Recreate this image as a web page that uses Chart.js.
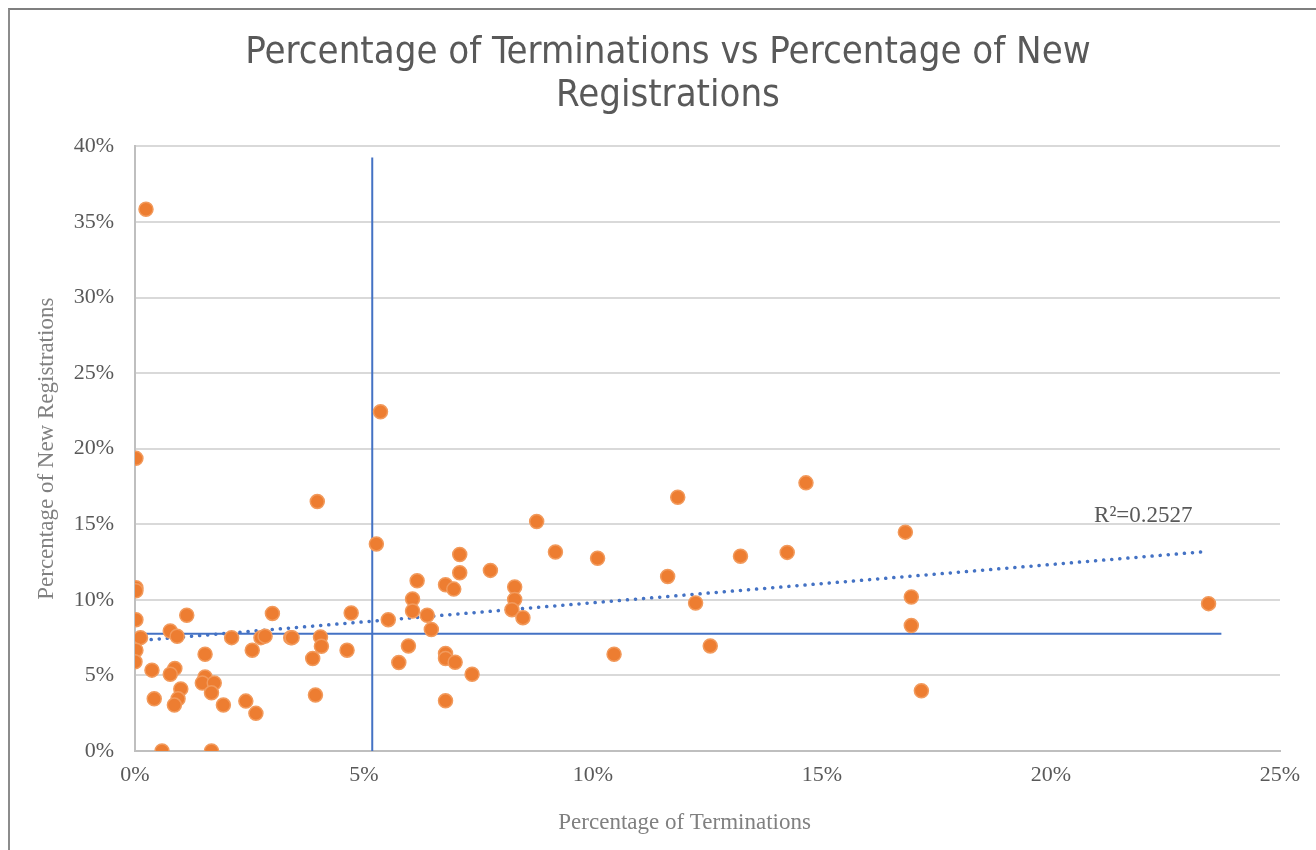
<!DOCTYPE html>
<html>
<head>
<meta charset="utf-8">
<title>Percentage of Terminations vs Percentage of New Registrations</title>
<script src="https://cdn.jsdelivr.net/npm/chart.js@4.4.0/dist/chart.umd.min.js"></script>
<style>
    html, body { margin: 0; padding: 0; background: #fff; overflow: hidden; }
    #wrap { position: relative; width: 1316px; height: 850px; }
    #frame {
        position: absolute; left: 8px; top: 8px; width: 1320px; height: 860px;
        border-top: 2px solid #7f7f7f; border-left: 2px solid #8c8c8c;
        pointer-events: none;
    }
</style>
</head>
<body>
<div id="wrap">
    <canvas id="scatter-chart" width="1316" height="850"></canvas>
    <div id="frame"></div>
</div>
<script>
// Percentage of terminations (x) and new registrations (y), one entry per point
const terminationPct = [
    0.24, 0.02, 0.02, 0.02, 0.02, 0.12, 0.02, 0.0, 0.37, 0.42,
    0.59, 0.77, 0.92, 0.87, 0.77, 1.0, 0.94, 0.86, 1.13, 1.53,
    1.53, 1.47, 1.73, 1.67, 1.67, 1.93, 2.11, 2.42, 2.56, 2.64,
    2.75, 2.84, 3.0, 3.40, 3.43, 3.88, 3.94, 3.98, 4.05, 4.07,
    4.63, 4.72, 5.27, 5.36, 5.53, 5.76, 5.97, 6.06, 6.06, 6.16,
    6.38, 6.47, 6.78, 6.96, 6.78, 6.78, 6.99, 6.78, 7.09, 7.09,
    7.36, 7.76, 8.29, 8.29, 8.23, 8.47, 8.77, 9.18, 10.1, 10.46,
    11.63, 11.85, 12.24, 12.56, 13.22, 14.24, 14.65, 16.82, 16.95, 16.95,
    17.17, 23.44
];
const newRegistrationPct = [
    35.84, 19.36, 10.8, 10.6, 8.69, 7.5, 6.67, 5.9, 5.35, 3.45,
    0.0, 7.94, 7.59, 5.46, 5.08, 4.11, 3.45, 3.04, 8.98, 6.40,
    4.9, 4.5, 4.5, 3.85, 0.0, 3.04, 7.5, 3.30, 6.67, 2.49,
    7.5, 7.6, 9.1, 7.5, 7.5, 6.12, 3.70, 16.5, 7.55, 6.93,
    6.67, 9.13, 13.7, 22.44, 8.69, 5.85, 6.95, 10.05, 9.26, 11.26,
    8.98, 8.04, 11.0, 10.71, 6.45, 6.12, 5.87, 3.32, 13.0, 11.79,
    5.08, 11.95, 10.85, 10.03, 9.35, 8.82, 15.18, 13.16, 12.75, 6.40,
    11.55, 16.79, 9.79, 6.95, 12.89, 13.14, 17.74, 14.48, 10.19, 8.30,
    3.98, 9.75
];

// Linear trend line end points (dotted) and its R squared
const trendX = [0, 23.4];
const trendY = [7.28, 13.2];
const trendLabel = 'R\u00B2=0.2527';

// Reference lines: horizontal average and vertical average
const avgLineX = [0, 23.72];
const avgLineY = [7.75, 7.75];
const vertLineX = [5.18, 5.18];
const vertLineY = [0, 39.27];

// Axis ticks
const xTicks = [0, 5, 10, 15, 20, 25];
const yTicks = [0, 5, 10, 15, 20, 25, 30, 35, 40];

const xTitle = 'Percentage of Terminations';

const lineBlue = '#4472C4';
const tickGrey = '#595959';
const serif = "'Liberation Serif', 'Times New Roman', serif";

const points = terminationPct.map((x, i) => ({ x: x, y: newRegistrationPct[i] }));
const toXY = (xs, ys) => xs.map((x, i) => ({ x: x, y: ys[i] }));

// draws the R² label next to the trend line, and the x axis title
// (Excel centres that title a little left of the plot centre)
const labelsPlugin = {
    id: 'extraLabels',
    afterDatasetsDraw(chart) {
        const { ctx, scales } = chart;
        ctx.save();
        ctx.font = '23px ' + serif;
        ctx.fillStyle = tickGrey;
        ctx.textAlign = 'left';
        ctx.textBaseline = 'alphabetic';
        ctx.fillText(trendLabel, scales.x.getPixelForValue(20.94), scales.y.getPixelForValue(15.17));

        ctx.fillStyle = '#808080';
        ctx.textAlign = 'center';
        ctx.textBaseline = 'middle';
        ctx.fillText(xTitle, scales.x.getPixelForValue(12.0), scales.x.bottom - 17);
        ctx.restore();
    }
};

function initChart() {
    const ctx = document.getElementById('scatter-chart').getContext('2d');

    new Chart(ctx, {
        type: 'scatter',
        data: {
            datasets: [
                {
                    label: 'Points',
                    data: points,
                    backgroundColor: '#ED7D31',
                    borderColor: '#F29A5C',
                    borderWidth: 1.5,
                    pointRadius: 7,
                    order: 0
                },
                {
                    label: 'Trend',
                    data: toXY(trendX, trendY),
                    showLine: true,
                    borderColor: lineBlue,
                    borderWidth: 3.5,
                    borderDash: [0.1, 8],
                    borderCapStyle: 'round',
                    pointRadius: 0,
                    order: 1
                },
                {
                    label: 'Average',
                    data: toXY(avgLineX, avgLineY),
                    showLine: true,
                    borderColor: lineBlue,
                    borderWidth: 2,
                    pointRadius: 0,
                    order: 2
                },
                {
                    label: 'Vertical',
                    data: toXY(vertLineX, vertLineY),
                    showLine: true,
                    borderColor: lineBlue,
                    borderWidth: 2,
                    pointRadius: 0,
                    order: 2
                }
            ]
        },
        options: {
            responsive: false,
            animation: false,
            layout: {
                padding: { left: 28, right: 8, top: 8, bottom: 10 }
            },
            plugins: {
                legend: { display: false },
                tooltip: { enabled: false },
                title: {
                    display: true,
                    text: ['Percentage of Terminations vs Percentage of New', 'Registrations'],
                    color: tickGrey,
                    font: {
                        family: "'DejaVu Sans Condensed', 'Liberation Sans Narrow', 'DejaVu Sans', sans-serif",
                        size: 38,
                        weight: 'normal',
                        lineHeight: 1.15
                    },
                    padding: { top: 23, bottom: 28 }
                }
            },
            scales: {
                x: {
                    type: 'linear',
                    min: 0,
                    max: 25,
                    afterBuildTicks: scale => { scale.ticks = xTicks.map(v => ({ value: v })); },
                    afterFit: scale => { scale.height = 89; scale.paddingRight = 36; },
                    grid: { display: false, drawTicks: false },
                    border: { display: true, color: '#bfbfbf', width: 2 },
                    ticks: {
                        color: tickGrey,
                        padding: 11,
                        font: { family: serif, size: 22 },
                        callback: v => v + '%'
                    }
                },
                y: {
                    type: 'linear',
                    min: 0,
                    max: 40,
                    afterBuildTicks: scale => { scale.ticks = yTicks.map(v => ({ value: v })); },
                    afterFit: scale => { scale.width = 107; },
                    grid: { color: '#d9d9d9', lineWidth: 2, drawTicks: false },
                    border: { display: true, color: '#bfbfbf', width: 2 },
                    ticks: {
                        color: tickGrey,
                        padding: 21,
                        font: { family: serif, size: 22 },
                        callback: v => v + '%'
                    },
                    title: {
                        display: true,
                        text: 'Percentage of New Registrations',
                        color: '#808080',
                        font: { family: serif, size: 23 },
                        padding: { top: 5, bottom: 4 }
                    }
                }
            }
        },
        plugins: [labelsPlugin]
    });
}

window.addEventListener('load', initChart);
</script>
</body>
</html>
